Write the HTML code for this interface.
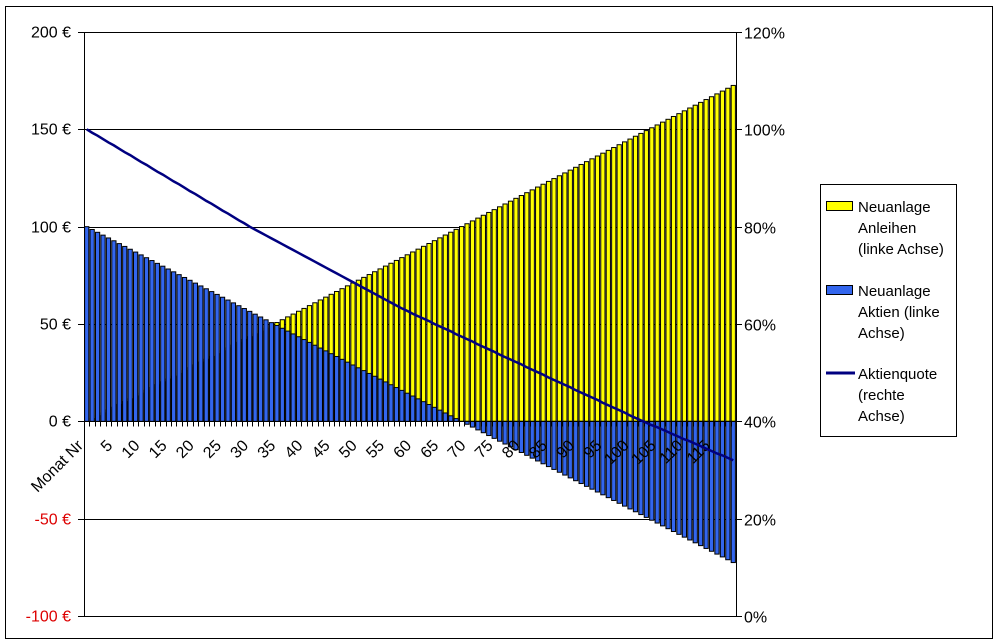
<!DOCTYPE html>
<html><head><meta charset="utf-8"><style>
body{margin:0;background:#fff}
svg{display:block;font-family:"Liberation Sans",Arial,sans-serif}
</style></head><body>
<svg id="c" width="998" height="644" xmlns="http://www.w3.org/2000/svg">
<rect x="5.5" y="6.5" width="987" height="632" fill="#fff" stroke="#000"/>
<g id="grid"></g><g id="bars"></g><g id="axes"></g><g id="line"></g>
<g>
<rect x="820.5" y="184.5" width="136" height="252" fill="#fff" stroke="#000"/>
<g>
<rect x="826.5" y="201.5" width="26" height="9" fill="#ffff00" stroke="#000"/>
<text x="858" y="212" font-size="15">Neuanlage</text><text x="858" y="233" font-size="15">Anleihen</text><text x="858" y="254" font-size="15">(linke Achse)</text></g>
<g>
<rect x="826.5" y="285.5" width="26" height="9" fill="#3366ee" stroke="#000"/>
<text x="858" y="296" font-size="15">Neuanlage</text><text x="858" y="317" font-size="15">Aktien (linke</text><text x="858" y="338" font-size="15">Achse)</text></g>
<g>
<line x1="826" y1="373" x2="855" y2="373" stroke="#000080" stroke-width="3"/>
<text x="858" y="379" font-size="15">Aktienquote</text><text x="858" y="400" font-size="15">(rechte</text><text x="858" y="421" font-size="15">Achse)</text></g>
</g>
</svg>
<script>
const anleihen=[0,1.45,2.9,4.35,5.8,7.25,8.7,10.15,11.6,13.05,14.5,15.95,17.4,18.85,20.3,21.75,23.2,24.65,26.1,27.55,29,30.45,31.9,33.35,34.8,36.25,37.7,39.15,40.6,42.05,43.5,44.95,46.4,47.85,49.3,50.75,52.2,53.65,55.1,56.55,58,59.45,60.9,62.35,63.8,65.25,66.7,68.15,69.6,71.05,72.5,73.95,75.4,76.85,78.3,79.75,81.2,82.65,84.1,85.55,87,88.45,89.9,91.35,92.8,94.25,95.7,97.15,98.6,100.05,101.5,102.95,104.4,105.85,107.3,108.75,110.2,111.65,113.1,114.55,116,117.45,118.9,120.35,121.8,123.25,124.7,126.15,127.6,129.05,130.5,131.95,133.4,134.85,136.3,137.75,139.2,140.65,142.1,143.55,145,146.45,147.9,149.35,150.8,152.25,153.7,155.15,156.6,158.05,159.5,160.95,162.4,163.85,165.3,166.75,168.2,169.65,171.1,172.55];
const aktien=[100,98.55,97.1,95.65,94.2,92.75,91.3,89.85,88.4,86.95,85.5,84.05,82.6,81.15,79.7,78.25,76.8,75.35,73.9,72.45,71,69.55,68.1,66.65,65.2,63.75,62.3,60.85,59.4,57.95,56.5,55.05,53.6,52.15,50.7,49.25,47.8,46.35,44.9,43.45,42,40.55,39.1,37.65,36.2,34.75,33.3,31.85,30.4,28.95,27.5,26.05,24.6,23.15,21.7,20.25,18.8,17.35,15.9,14.45,13,11.55,10.1,8.65,7.2,5.75,4.3,2.85,1.4,-0.05,-1.5,-2.95,-4.4,-5.85,-7.3,-8.75,-10.2,-11.65,-13.1,-14.55,-16,-17.45,-18.9,-20.35,-21.8,-23.25,-24.7,-26.15,-27.6,-29.05,-30.5,-31.95,-33.4,-34.85,-36.3,-37.75,-39.2,-40.65,-42.1,-43.55,-45,-46.45,-47.9,-49.35,-50.8,-52.25,-53.7,-55.15,-56.6,-58.05,-59.5,-60.95,-62.4,-63.85,-65.3,-66.75,-68.2,-69.65,-71.1,-72.55];
const quote=[100,99.3,98.7,98,97.3,96.7,96,95.3,94.7,94,93.3,92.7,92,91.3,90.7,90,89.3,88.7,88,87.3,86.7,86,85.3,84.7,84,83.3,82.7,82,81.3,80.7,80,79.4,78.8,78.2,77.6,77,76.4,75.8,75.2,74.6,74,73.4,72.8,72.2,71.6,71,70.4,69.8,69.2,68.6,68,67.4,66.8,66.2,65.6,65,64.4,63.8,63.2,62.7,62.1,61.6,61.1,60.6,60,59.5,59,58.5,57.9,57.4,56.9,56.4,55.8,55.3,54.8,54.3,53.7,53.2,52.7,52.2,51.7,51.1,50.6,50.1,49.6,49,48.5,48,47.5,47,46.4,45.9,45.4,44.9,44.4,43.8,43.3,42.8,42.3,41.8,41.2,40.7,40.2,39.7,39.2,38.8,38.3,37.8,37.3,36.8,36.3,35.9,35.4,34.9,34.4,33.9,33.4,33,32.5,32];
const leftTicks=[200,150,100,50,0,-50,-100];
const rightTicks=[120,100,80,60,40,20,0];
const xLabels=[5,10,15,20,25,30,35,40,45,50,55,60,65,70,75,80,85,90,95,100,105,110,115];
const NS='http://www.w3.org/2000/svg';
const L=84,R=736,T=32,B=616,n=anleihen.length,bw=(R-L)/n;
const yL=v=>T+(200-v)/300*(B-T);
const yR=v=>T+(120-v)/120*(B-T);
const xC=i=>L+bw*(i+0.5);
function mk(p,tag,at){const e=document.createElementNS(NS,tag);for(const k in at)e.setAttribute(k,at[k]);document.getElementById(p).appendChild(e);return e;}
leftTicks.forEach(v=>{const y=Math.round(yL(v))+0.5;
const g=mk('grid','line',{x1:L,x2:R,y1:y,y2:y,stroke:'#000'});


const t=mk('axes','text',{x:71,y:y+5,'text-anchor':'end','font-size':16,fill:v<0?'#dd0000':'#000'});
t.textContent=v+' €';


mk('axes','line',{x1:L-6,x2:L,y1:y,y2:y,stroke:'#000'});});
rightTicks.forEach(v=>{const y=Math.round(yR(v))+0.5;
mk('axes','line',{x1:R,x2:R+6,y1:y,y2:y,stroke:'#000'});
const t=mk('axes','text',{x:744,y:y+6,'font-size':16});
t.textContent=v+'%';

});
const y0=yL(0);
for(let i=0;i<n;i++){const x=L+bw*i+0.6,w=bw-1.2;
const a=mk('bars','rect',{x:x,y:Math.min(yL(anleihen[i]),y0),width:w,height:Math.abs(yL(anleihen[i])-y0),fill:'#ffff00',stroke:'#000','stroke-width':1});

}
for(let i=0;i<n;i++){const x=L+bw*i+0.6,w=bw-1.2;
const b=mk('bars','rect',{x:x,y:Math.min(yL(aktien[i]),y0),width:w,height:Math.abs(yL(aktien[i])-y0),fill:'#3366ee',stroke:'#000','stroke-width':1});

}
const ya=Math.round(y0)+0.5;
mk('axes','line',{x1:L,x2:R,y1:ya,y2:ya,stroke:'#000'});
for(let i=0;i<=n;i++){const x=Math.round(L+bw*i)+0.5;mk('axes','line',{x1:x,x2:x,y1:ya,y2:ya+5,stroke:'#000'});}
const al=mk('axes','line',{x1:L+0.5,x2:L+0.5,y1:T,y2:B,stroke:'#000'});


const ar=mk('axes','line',{x1:R+0.5,x2:R+0.5,y1:T,y2:B,stroke:'#000'});


xLabels.forEach(m=>{const x=xC(m-1)+5,y=ya+25;
const t=mk('axes','text',{x:x,y:y,'text-anchor':'end','font-size':16,transform:`rotate(-45 ${x} ${y})`});
t.textContent=m;

});
const mt=mk('axes','text',{x:84,y:ya+25,'text-anchor':'end','font-size':16,transform:`rotate(-45 84 ${ya+25})`});
mt.textContent='Monat Nr';


const pl=mk('line','polyline',{points:quote.map((v,i)=>xC(i)+','+yR(v)).join(' '),fill:'none',stroke:'#000080','stroke-width':2.5});


</script>
</body></html>
